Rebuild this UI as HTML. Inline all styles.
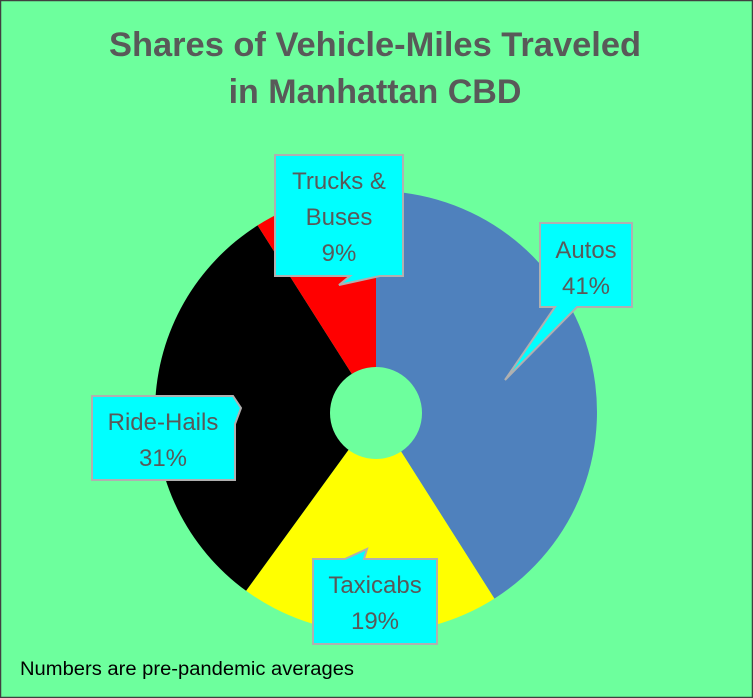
<!DOCTYPE html>
<html><head><meta charset="utf-8"><style>
html,body{margin:0;padding:0;background:#6dff9d;}
svg{display:block;font-family:"Liberation Sans",sans-serif;}
</style></head><body>
<svg width="753" height="698" viewBox="0 0 753 698">
<rect x="0.5" y="0.5" width="752" height="697" fill="#6dff9d" stroke="#404040" stroke-width="1.5"/>
<text x="375" y="56" text-anchor="middle" font-size="34" font-weight="bold" fill="#595959" textLength="532" lengthAdjust="spacingAndGlyphs">Shares of Vehicle-Miles Traveled</text>
<text x="375" y="103" text-anchor="middle" font-size="34" font-weight="bold" fill="#595959">in Manhattan CBD</text>
<path d="M376,412 L376,191 A221,221 0 0 1 494.4,598.6 Z" fill="#4f81bd"/>
<path d="M376,412 L494.4,598.6 A221,221 0 0 1 246.1,590.8 Z" fill="#ffff00"/>
<path d="M376,412 L246.1,590.8 A221,221 0 0 1 257.6,225.4 Z" fill="#000000"/>
<path d="M376,412 L257.6,225.4 A221,221 0 0 1 376,191 Z" fill="#ff0000"/>
<circle cx="376" cy="413" r="46" fill="#6dff9d"/>
<g fill="#00ffff" stroke="#b0b0b0" stroke-width="2">
<path d="M275,155 H403 V276 H380 L339,285 L350,276 H275 Z"/>
<path d="M540,223 H632 V307 H577 L505,380 L555,307 H540 Z"/>
<path d="M92,396 H233 L241,408 L235,424 V480 H92 Z"/>
<path d="M313,559 H345 L367,549 L364,559 H437 V644 H313 Z"/>
</g>
<g font-size="24" fill="#595959" text-anchor="middle">
<text x="339" y="189">Trucks &amp;</text>
<text x="339" y="225">Buses</text>
<text x="339" y="261">9%</text>
<text x="586" y="258">Autos</text>
<text x="586" y="294">41%</text>
<text x="163" y="430">Ride-Hails</text>
<text x="163" y="466">31%</text>
<text x="375" y="593">Taxicabs</text>
<text x="375" y="629">19%</text>
</g>
<text x="20" y="675" font-size="19" fill="#000" textLength="334" lengthAdjust="spacingAndGlyphs">Numbers are pre-pandemic averages</text>
</svg>
</body></html>
